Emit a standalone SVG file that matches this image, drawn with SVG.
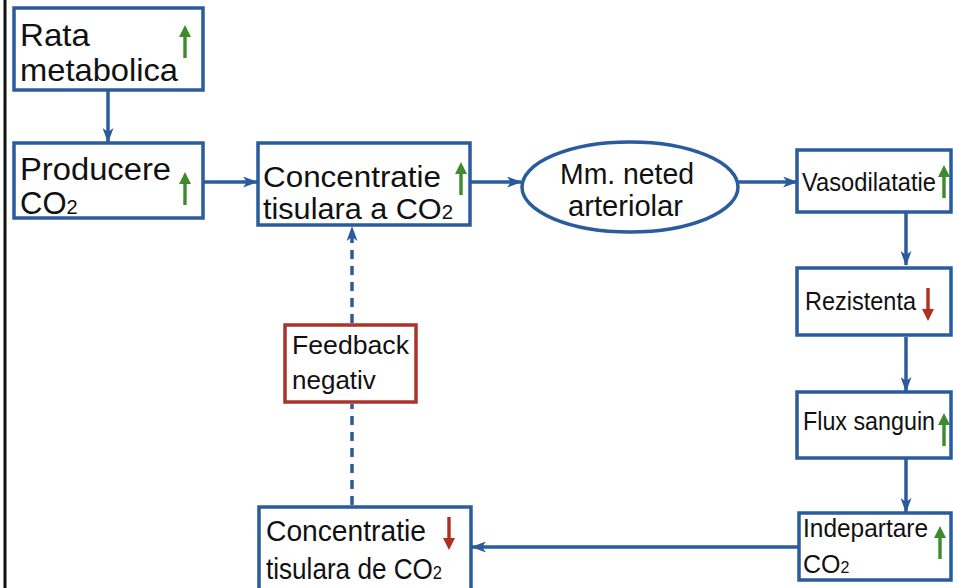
<svg xmlns="http://www.w3.org/2000/svg" width="953" height="588" viewBox="0 0 953 588">
<style>
.box{fill:#fff;stroke:#2a5b9c;stroke-width:3.5}
.fb{fill:#fff;stroke:#a8342a;stroke-width:3.5}
.con{fill:none;stroke:#2a5b9c;stroke-width:3.5}
.t{font-family:"Liberation Sans",Arial,sans-serif;fill:#111}
.up{fill:#3e8a2c}
.dn{fill:#b0301f}
</style>
<defs>
<marker id="ah" viewBox="0 0 15 11" refX="14" refY="5.5" markerWidth="15" markerHeight="11" markerUnits="userSpaceOnUse" orient="auto">
<path d="M0,0 L15,5.5 L0,11 L4,5.5 Z" fill="#2a5b9c"/>
</marker>
<path id="upA" d="M-6,12 L0,0 L6,12 L1.7,12 L1.7,33 L-1.7,33 L-1.7,12 Z"/>
<path id="dnA" d="M-6,21 L0,33 L6,21 L1.7,21 L1.7,0 L-1.7,0 L-1.7,21 Z"/>
</defs>
<rect x="0" y="0" width="953" height="588" fill="#fff"/>
<rect x="3.5" y="0" width="3" height="588" fill="#111"/>

<g id="connectors">
<line class="con" x1="108" y1="91" x2="108" y2="142" marker-end="url(#ah)"/>
<line class="con" x1="203" y1="182" x2="257" y2="182" marker-end="url(#ah)"/>
<line class="con" x1="470" y1="182" x2="521" y2="182" marker-end="url(#ah)"/>
<line class="con" x1="738" y1="182" x2="797" y2="182" marker-end="url(#ah)"/>
<line class="con" x1="906" y1="213" x2="906" y2="265" marker-end="url(#ah)"/>
<line class="con" x1="906" y1="337" x2="906" y2="391" marker-end="url(#ah)"/>
<line class="con" x1="906" y1="459" x2="906" y2="512" marker-end="url(#ah)"/>
<line class="con" x1="799" y1="547" x2="472" y2="547" marker-end="url(#ah)"/>
<line class="con" x1="352" y1="505" x2="352" y2="404" stroke-dasharray="9,7"/>
<line class="con" x1="352" y1="323" x2="352" y2="227" stroke-dasharray="9,7" marker-end="url(#ah)"/>
</g>

<g id="rata">
<rect class="box" x="14" y="8" width="189" height="82"/>
<text class="t" x="20" y="46" font-size="32" textLength="70" lengthAdjust="spacingAndGlyphs">Rata</text>
<text class="t" x="20" y="81" font-size="32" textLength="158" lengthAdjust="spacingAndGlyphs">metabolica</text>
<use href="#upA" class="up" transform="translate(185,25)"/>
</g>

<g id="producere">
<rect class="box" x="14" y="143" width="189" height="75"/>
<text class="t" x="20" y="180" font-size="31" textLength="151" lengthAdjust="spacingAndGlyphs">Producere</text>
<text class="t" x="20" y="214" font-size="31">CO<tspan font-size="20">2</tspan></text>
<use href="#upA" class="up" transform="translate(185,172)"/>
</g>

<g id="conc1">
<rect class="box" x="258" y="143" width="212" height="82"/>
<text class="t" x="263" y="187" font-size="30" textLength="178" lengthAdjust="spacingAndGlyphs">Concentratie</text>
<text class="t" x="263" y="219" font-size="30" textLength="190" lengthAdjust="spacingAndGlyphs">tisulara a CO<tspan font-size="20">2</tspan></text>
<use href="#upA" class="up" transform="translate(461,162)"/>
</g>

<g id="mm">
<ellipse class="box" cx="630" cy="187" rx="108" ry="45"/>
<text class="t" x="560" y="184" font-size="29" textLength="134" lengthAdjust="spacingAndGlyphs">Mm. neted</text>
<text class="t" x="568" y="216" font-size="29" textLength="115" lengthAdjust="spacingAndGlyphs">arteriolar</text>
</g>

<g id="vaso">
<rect class="box" x="797" y="150" width="154" height="62"/>
<text class="t" x="802" y="191" font-size="25" textLength="134" lengthAdjust="spacingAndGlyphs">Vasodilatatie</text>
<use href="#upA" class="up" transform="translate(944,165)"/>
</g>

<g id="rez">
<rect class="box" x="797" y="268" width="154" height="67"/>
<text class="t" x="805" y="310" font-size="25" textLength="111" lengthAdjust="spacingAndGlyphs">Rezistenta</text>
<use href="#dnA" class="dn" transform="translate(928,288)"/>
</g>

<g id="flux">
<rect class="box" x="797" y="392" width="154" height="66"/>
<text class="t" x="803" y="430" font-size="25" textLength="132" lengthAdjust="spacingAndGlyphs">Flux sanguin</text>
<use href="#upA" class="up" transform="translate(944,413)"/>
</g>

<g id="indep">
<rect class="box" x="799" y="513" width="152" height="67"/>
<text class="t" x="803" y="537" font-size="25" textLength="125" lengthAdjust="spacingAndGlyphs">Indepartare</text>
<text class="t" x="803" y="573" font-size="25">CO<tspan font-size="16">2</tspan></text>
<use href="#upA" class="up" transform="translate(940,526)"/>
</g>

<g id="conc2">
<rect class="box" x="259" y="507" width="212" height="84"/>
<text class="t" x="266" y="541" font-size="30" textLength="160" lengthAdjust="spacingAndGlyphs">Concentratie</text>
<text class="t" x="266" y="579" font-size="30" textLength="176" lengthAdjust="spacingAndGlyphs">tisulara de CO<tspan font-size="19">2</tspan></text>
<use href="#dnA" class="dn" transform="translate(449,517)"/>
</g>

<g id="feedback">
<rect class="fb" x="285" y="325" width="131" height="77"/>
<text class="t" x="292" y="354" font-size="26" textLength="117" lengthAdjust="spacingAndGlyphs">Feedback</text>
<text class="t" x="292" y="389" font-size="26">negativ</text>
</g>
</svg>
